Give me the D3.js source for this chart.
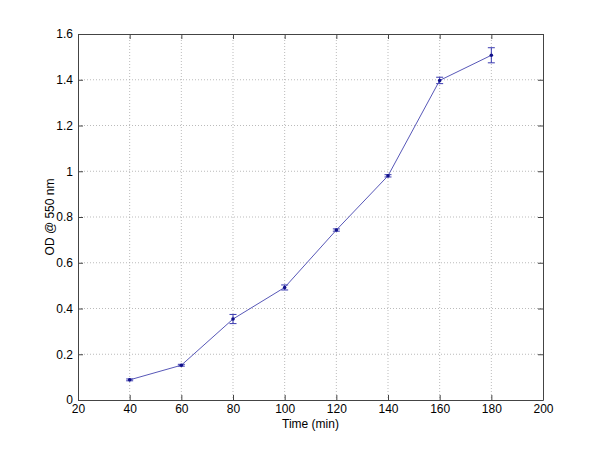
<!DOCTYPE html>
<html>
<head>
<meta charset="utf-8">
<script src="https://cdn.jsdelivr.net/npm/d3@7"></script>
<style>
  body { margin: 0; background: #fff; }
  svg text { font-family: "Liberation Sans", Arial, sans-serif; font-size: 11px; fill: #000; }
</style>
</head>
<body>
<script>
var times = [40, 60, 80, 100, 120, 140, 160, 180];
var od = [0.088, 0.152, 0.354, 0.492, 0.743, 0.980, 1.397, 1.507];
var odErr = [0.004, 0.004, 0.020, 0.011, 0.005, 0.005, 0.014, 0.033];
var xTicks = [20, 40, 60, 80, 100, 120, 140, 160, 180, 200];
var yTicks = [0, 0.2, 0.4, 0.6, 0.8, 1, 1.2, 1.4, 1.6];

var W = 600, H = 450,
    m = {left: 78, right: 57, top: 34, bottom: 50},
    iw = W - m.left - m.right, ih = H - m.top - m.bottom;

var svg = d3.select("body").append("svg").attr("width", W).attr("height", H);
var g = svg.append("g").attr("transform", "translate(" + m.left + "," + m.top + ")");

var x = d3.scaleLinear().domain([20, 200]).range([0, iw]);
var y = d3.scaleLinear().domain([0, 1.6]).range([ih, 0]);

// grid
g.append("g").selectAll("line").data(xTicks.slice(1, -1)).enter().append("line")
  .attr("x1", function(d){ return x(d); }).attr("x2", function(d){ return x(d); })
  .attr("y1", 0).attr("y2", ih)
  .attr("stroke", "#aaa").attr("stroke-width", 0.8).attr("stroke-dasharray", "1,2");
g.append("g").selectAll("line").data(yTicks.slice(1, -1)).enter().append("line")
  .attr("y1", function(d){ return y(d); }).attr("y2", function(d){ return y(d); })
  .attr("x1", 0).attr("x2", iw)
  .attr("stroke", "#aaa").attr("stroke-width", 0.8).attr("stroke-dasharray", "1,2");

// axes, ticks inward like matlab
var fmt = function(d){ return d3.format("")(d); };
g.append("g").attr("transform", "translate(0," + ih + ")")
  .call(d3.axisBottom(x).tickValues(xTicks).tickSizeInner(-5).tickSizeOuter(0).tickPadding(4).tickFormat(fmt));
g.append("g")
  .call(d3.axisTop(x).tickValues(xTicks).tickSizeInner(-5).tickSizeOuter(0).tickFormat(""));
g.append("g")
  .call(d3.axisLeft(y).tickValues(yTicks).tickSizeInner(-5).tickSizeOuter(0).tickPadding(5).tickFormat(fmt));
g.append("g").attr("transform", "translate(" + iw + ",0)")
  .call(d3.axisRight(y).tickValues(yTicks).tickSizeInner(-5).tickSizeOuter(0).tickFormat(""));
g.selectAll(".domain, .tick line").attr("stroke", "#444");
g.selectAll(".tick text").style("font-size", "12px");

// error bars
var eb = g.append("g").attr("stroke", "#3a3ab0").attr("stroke-width", 1);
times.forEach(function(t, i){
  var x0 = x(t), lo = y(od[i] - odErr[i]), hi = y(od[i] + odErr[i]);
  eb.append("line").attr("x1", x0).attr("x2", x0).attr("y1", lo).attr("y2", hi);
  eb.append("line").attr("x1", x0 - 3.5).attr("x2", x0 + 3.5).attr("y1", lo).attr("y2", lo);
  eb.append("line").attr("x1", x0 - 3.5).attr("x2", x0 + 3.5).attr("y1", hi).attr("y2", hi);
});

// line
var line = d3.line().x(function(d){ return x(d[0]); }).y(function(d){ return y(d[1]); });
g.append("path").datum(d3.zip(times, od)).attr("d", line)
  .attr("fill", "none").attr("stroke", "#5858b8").attr("stroke-width", 1);

// points
g.append("g").selectAll("circle").data(d3.zip(times, od)).enter().append("circle")
  .attr("cx", function(d){ return x(d[0]); }).attr("cy", function(d){ return y(d[1]); })
  .attr("r", 1.8).attr("fill", "#10108a");

// labels
svg.append("text").attr("x", m.left + iw / 2).attr("y", H - 22).attr("text-anchor", "middle")
  .style("font-size", "12px").text("Time (min)");
svg.append("text").attr("transform", "translate(54," + (m.top + ih / 2) + ") rotate(-90)")
  .attr("text-anchor", "middle").style("font-size", "12px").text("OD @ 550 nm");
</script>
</body>
</html>
